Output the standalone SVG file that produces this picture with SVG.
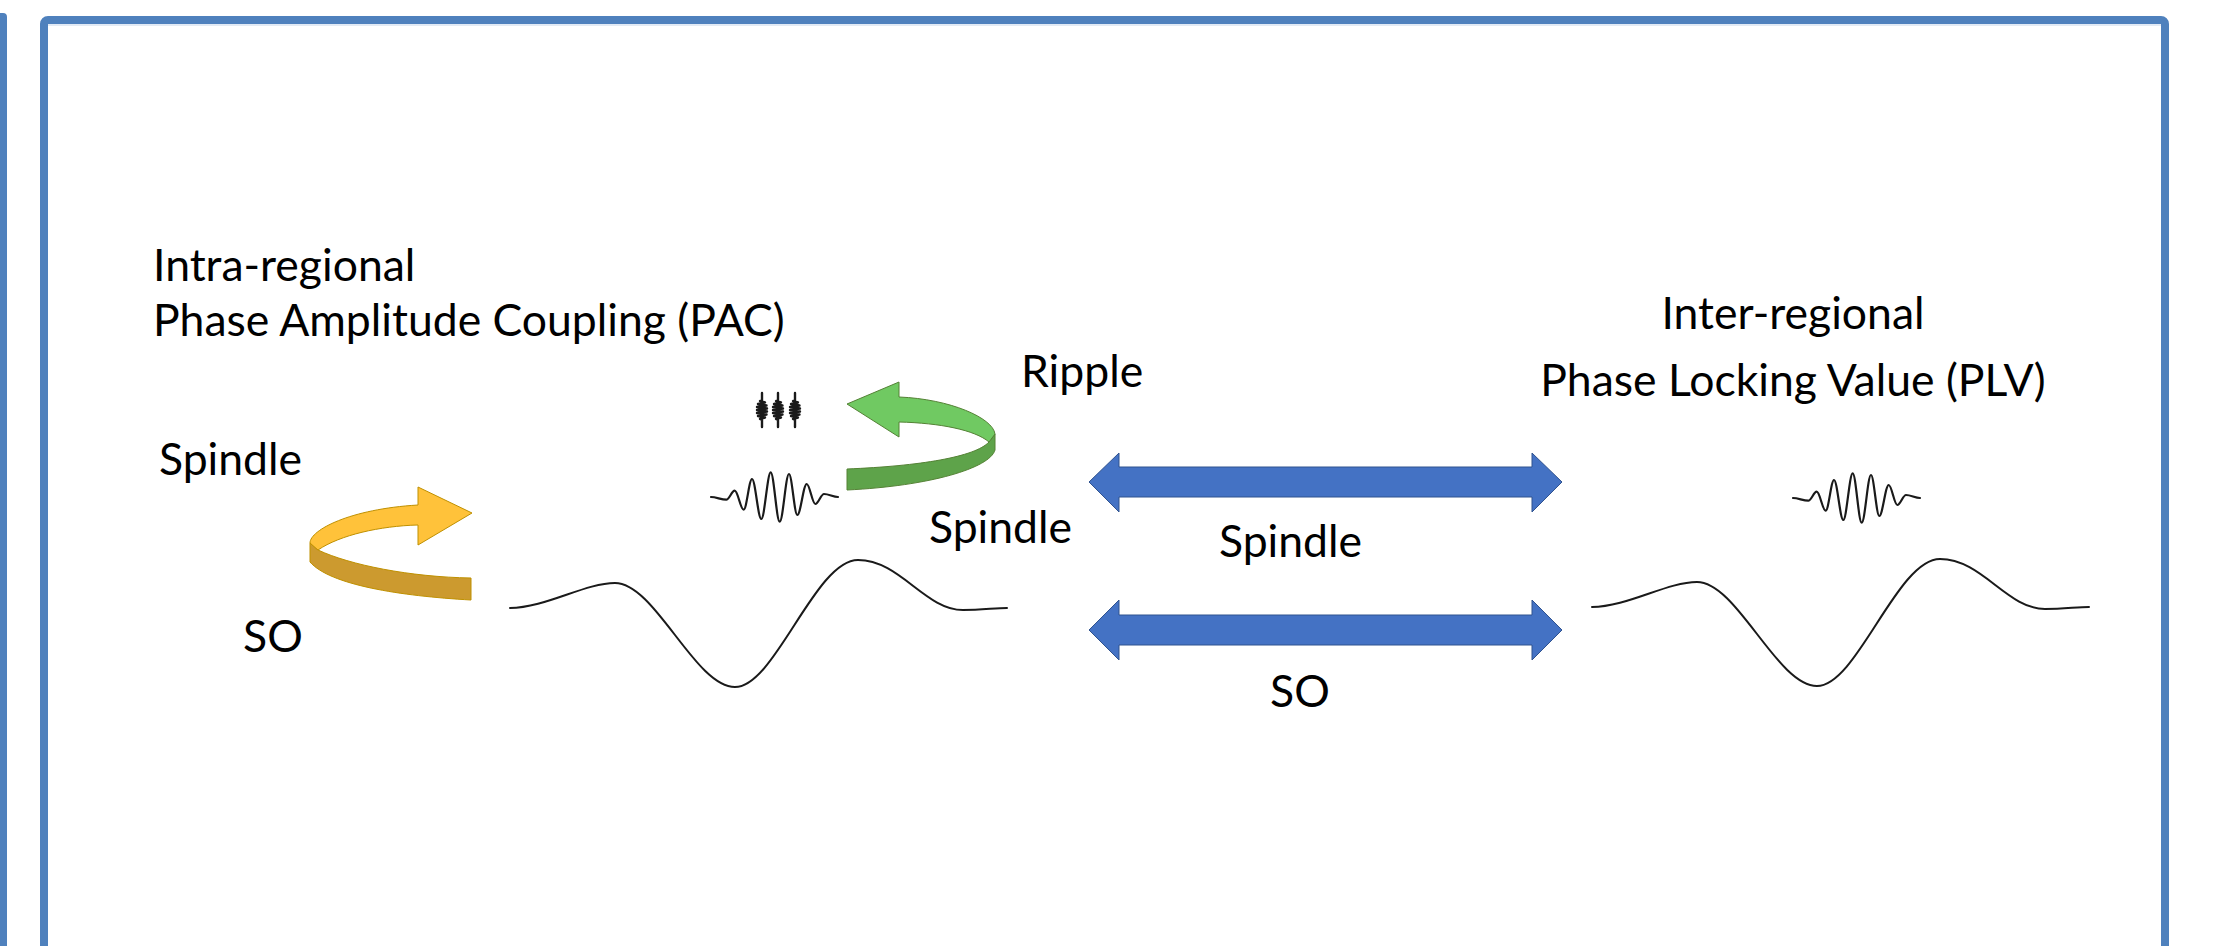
<svg xmlns="http://www.w3.org/2000/svg" width="2215" height="946" viewBox="0 0 2215 946">
<style>
  .t { font-family: Lato, "Liberation Sans", sans-serif; font-size: 44.5px; fill: #000; }
  .frame { fill: none; stroke: #4F81BD; stroke-width: 8; stroke-linejoin: round; }
  .wave { fill: none; stroke: #1a1a1a; stroke-width: 2; stroke-linecap: round; stroke-linejoin: round; }
  .spin { fill: none; stroke: #1a1a1a; stroke-width: 2.2; stroke-linecap: round; stroke-linejoin: round; }
  .blue { fill: #4472C4; stroke: #2F528F; stroke-width: 1; }
</style>
<defs>
  <path id="so" d="M0 0 C35 0 75 -25 105 -25 C145 -25 185 79 225 79 C265 79 305 -48 348 -48 C390 -48 415 2 453 2 C472 2 485 0 497 0"/>
  <path id="sp" d="M0 0 C5.4 0 9.9 2.7 15.3 2.7 C18.2 2.7 20.8 -6.3 23.7 -6.3 C26.9 -6.3 29.5 12.7 32.7 12.7 C35.6 12.7 38.1 -18 41 -18 C44.3 -18 47 22 50.3 22 C53.6 22 56.4 -24.7 59.7 -24.7 C62.9 -24.7 65.5 24.7 68.7 24.7 C72 24.7 74.7 -23 78 -23 C80.9 -23 83.4 18 86.3 18 C89.6 18 92.4 -13 95.7 -13 C98.7 -13 101.3 7 104.3 7 C107.3 7 110 -3 113 -3 C117.9 -3 122.1 0 127 0"/>
  <path id="rb" d="M0 -17 L0 -10 L-2 -9 L3 -7.5 L-4 -6 L4.5 -4.5 L-5 -3 L5 -1.5 L-5 0 L5 1.5 L-5 3 L4.5 4.5 L-4 6 L3 7.5 L-2 9 L0 10 L0 17"/>
</defs>

<g id="frames">
  <path class="frame" d="M-20 17 L3 17 L3 960"/>
  <rect class="frame" x="44" y="20" width="2121" height="1000" rx="4"/>
  <line x1="48" y1="25" x2="2161" y2="25" stroke="#C5D5EA" stroke-width="1"/>
</g>

<g id="title-left">
  <text class="t" x="153" y="281">Intra-regional</text>
  <text class="t" x="153" y="336">Phase Amplitude Coupling (PAC)</text>
</g>
<g id="title-right">
  <text class="t" x="1793" y="329" text-anchor="middle">Inter-regional</text>
  <text class="t" x="1793" y="396" text-anchor="middle">Phase Locking Value (PLV)</text>
</g>

<g id="pac-so-spindle">
  <path d="M318 550 C350 565 410 577 471 578 L471 600 C400 596 330 585 310 562 L310 543 Z" fill="#CC9A2F" stroke="#BF9000" stroke-width="1"/>
  <path d="M418 505 L418 487 L472 513 L418 545 L418 525 C380 526 340 535 318 550 L310 543 C310 530 350 509 418 505 Z" fill="#FFC23A" stroke="#BF9000" stroke-width="1"/>
  <text class="t" x="159" y="475">Spindle</text>
  <text class="t" x="243" y="652">SO</text>
</g>

<g id="pac-spindle-ripple">
  <path d="M989 442 L995 434 L995 450 C990 468 930 486 847 490 L847 469 C920 466 975 457 989 442 Z" fill="#5EA34A" stroke="#548235" stroke-width="1"/>
  <path d="M899 397 L899 382 L847 404 L899 437 L899 422 C940 423 975 430 989 442 L995 434 C993 418 950 399 899 397 Z" fill="#70C962" stroke="#548235" stroke-width="1"/>
  <text class="t" x="1021" y="387">Ripple</text>
  <text class="t" x="929" y="543">Spindle</text>
</g>

<g id="ripple-signal" class="spin" style="stroke-width:2.4">
  <use href="#rb" x="762" y="410"/>
  <use href="#rb" x="778" y="410"/>
  <use href="#rb" x="795" y="410"/>
</g>

<g id="spindle-left" class="spin">
  <use href="#sp" x="711" y="497"/>
</g>
<g id="so-left" class="wave">
  <use href="#so" x="510" y="608"/>
</g>

<g id="spindle-right" class="spin">
  <use href="#sp" x="1793" y="498"/>
</g>
<g id="so-right" class="wave">
  <use href="#so" x="1592" y="607"/>
</g>

<g id="connectors">
  <polygon class="blue" points="1089,482 1119,453 1119,467 1532,467 1532,453 1562,482 1532,512 1532,497 1119,497 1119,512"/>
  <polygon class="blue" points="1089,630 1119,600 1119,615 1532,615 1532,600 1562,630 1532,660 1532,645 1119,645 1119,660"/>
  <text class="t" x="1219" y="557">Spindle</text>
  <text class="t" x="1270" y="707">SO</text>
</g>
</svg>
